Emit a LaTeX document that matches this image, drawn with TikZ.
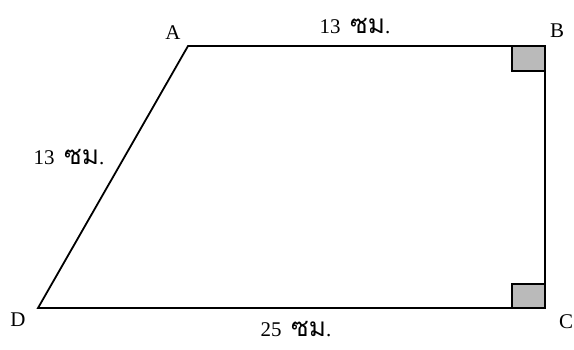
\documentclass[tikz,border=0pt]{standalone}
\usepackage{fontspec}
\setmainfont{Liberation Serif}
\newfontfamily\thaifont[Script=Thai,Scale=1.25]{Loma}
\newcommand{\cm}{\hspace{0.45em}{\thaifont ซม}.}
\begin{document}
\begin{tikzpicture}[x=1bp,y=-1bp,
  edge/.style={line width=1.8bp},
  rightmark/.style={draw=black,fill=black!27,line width=1.8bp},
  lbl/.style={font=\fontsize{21}{23}\selectfont,inner sep=0pt},
  meas/.style={font=\fontsize{21}{23}\selectfont,inner sep=0pt}]
\useasboundingbox (0,0) rectangle (574,349);
\coordinate (A) at (188,46);
\coordinate (B) at (545,46);
\coordinate (C) at (545,308);
\coordinate (D) at (38,308);
\draw[rightmark] (512,46) rectangle (545,71);
\draw[rightmark] (512,284) rectangle (545,308);
\draw[edge,line join=miter] (A) -- (B) -- (C) -- (D) -- cycle;
\node[lbl] (la) at (173,33) {A};
\node[lbl] (lb) at (557,31) {B};
\node[lbl] (lc) at (566,322) {C};
\node[lbl] (ld) at (18,320) {D};
\node[meas] (mab) at (355,26) {13\cm};
\node[meas] (mad) at (69,157) {13\cm};
\node[meas] (mdc) at (296,329) {25\cm};
\end{tikzpicture}
\end{document}
